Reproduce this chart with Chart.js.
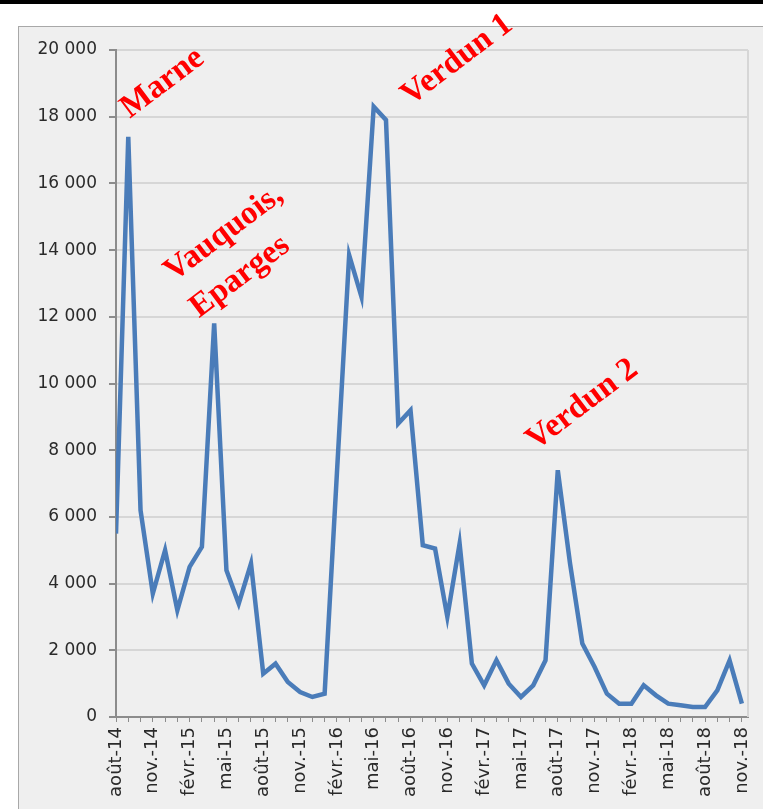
<!DOCTYPE html>
<html>
<head>
<meta charset="utf-8">
<script src="https://cdn.jsdelivr.net/npm/chart.js@4"></script>
<style>
    html, body { margin: 0; padding: 0; background: #fff; }
    body { width: 763px; height: 809px; position: relative; overflow: hidden; }
    .topbar { position: absolute; left: 0; top: 0; width: 763px; height: 4px; background: #000; }
    .panel {
        position: absolute; left: 18px; top: 26px; width: 760px; height: 800px;
        background: #efefef; border: 1px solid #a8a8a8;
    }
    #chart { position: absolute; left: 0; top: 0; }
</style>
</head>
<body>
<div class="topbar"></div>
<div class="panel"></div>
<canvas id="chart" width="763" height="809"></canvas>
<script>
// Months, août 2014 - nov. 2018
const months = ['août-14', 'sept.-14', 'oct.-14', 'nov.-14', 'déc.-14',
    'janv.-15', 'févr.-15', 'mars-15', 'avr.-15', 'mai-15', 'juin-15', 'juil.-15', 'août-15', 'sept.-15', 'oct.-15', 'nov.-15', 'déc.-15',
    'janv.-16', 'févr.-16', 'mars-16', 'avr.-16', 'mai-16', 'juin-16', 'juil.-16', 'août-16', 'sept.-16', 'oct.-16', 'nov.-16', 'déc.-16',
    'janv.-17', 'févr.-17', 'mars-17', 'avr.-17', 'mai-17', 'juin-17', 'juil.-17', 'août-17', 'sept.-17', 'oct.-17', 'nov.-17', 'déc.-17',
    'janv.-18', 'févr.-18', 'mars-18', 'avr.-18', 'mai-18', 'juin-18', 'juil.-18', 'août-18', 'sept.-18', 'oct.-18', 'nov.-18'];

// Monthly values
const values = [5500, 17400, 6200, 3700, 5000,
    3200, 4500, 5100, 11800, 4400, 3400, 4600, 1300, 1600, 1050, 750, 600,
    700, 7300, 13850, 12600, 18300, 17900, 8800, 9200, 5150, 5050, 3000, 5200,
    1600, 950, 1700, 1000, 600, 950, 1700, 7400, 4600, 2200, 1500, 700,
    400, 400, 950, 650, 400, 350, 300, 300, 800, 1700, 400];

// Battle labels, anchored at (month index, value)
const battleNames = ['Marne', 'Vauquois,', 'Eparges', 'Verdun 1', 'Verdun 2'];
const battleIndex = [3.8, 8.8, 10.1, 27.8, 38.0];
const battleValue = [19000, 14500, 13200, 19700, 9360];

const yMax = 20000;
const yStep = 2000;
const labelEvery = 3;

function formatThousands(v) {
    return String(v).replace(/\B(?=(\d{3})+(?!\d))/g, ' ');
}

// Draws the plot frame and the red battle names
const battleLabels = {
    id: 'battleLabels',
    afterDraw(chart) {
        const ctx = chart.ctx;
        const x = chart.scales.x;
        const y = chart.scales.y;
        const area = chart.chartArea;

        ctx.save();
        ctx.strokeStyle = '#d6d6d6';
        ctx.lineWidth = 2;
        ctx.beginPath();
        ctx.moveTo(area.right, area.top);
        ctx.lineTo(area.right, area.bottom);
        ctx.stroke();
        ctx.restore();

        ctx.save();
        ctx.fillStyle = '#ff0000';
        ctx.font = 'bold 33px "Liberation Serif", "Times New Roman", serif';
        ctx.textAlign = 'center';
        ctx.textBaseline = 'middle';
        battleNames.forEach((name, i) => {
            ctx.save();
            ctx.translate(x.getPixelForValue(battleIndex[i]), y.getPixelForValue(battleValue[i]));
            ctx.rotate(-37 * Math.PI / 180);
            ctx.fillText(name, 0, 0);
            ctx.restore();
        });
        ctx.restore();
    }
};

const ctx = document.getElementById('chart').getContext('2d');

new Chart(ctx, {
    type: 'line',
    data: {
        datasets: [{
            data: values.map((v, i) => ({ x: i, y: v })),
            borderColor: '#4a7cb9',
            borderWidth: 4.5,
            pointRadius: 0,
            tension: 0,
            fill: false
        }]
    },
    options: {
        responsive: false,
        animation: false,
        layout: {
            padding: { left: 0, top: 50, right: 15, bottom: 0 }
        },
        plugins: {
            legend: { display: false },
            tooltip: { enabled: false }
        },
        scales: {
            x: {
                type: 'linear',
                min: 0,
                max: months.length - 0.5,
                afterFit: scale => {
                    scale.height = 92;
                    scale.paddingLeft = 0;
                    scale.paddingRight = 0;
                },
                // one tick per month
                afterBuildTicks: scale => {
                    scale.ticks = months.map((m, i) => ({ value: i }));
                },
                grid: {
                    drawOnChartArea: false,
                    drawTicks: true,
                    tickLength: 5,
                    color: '#8c8c8c',
                    lineWidth: 1
                },
                border: { color: '#8c8c8c', width: 2 },
                ticks: {
                    autoSkip: false,
                    minRotation: 90,
                    maxRotation: 90,
                    padding: 5,
                    color: '#2a2a2a',
                    font: { family: '"DejaVu Sans", sans-serif', size: 18 },
                    callback: value => (Number.isInteger(value) && value % labelEvery === 0) ? months[value] : ''
                }
            },
            y: {
                min: 0,
                max: yMax,
                afterFit: scale => { scale.width = 116; },
                grid: {
                    color: '#d6d6d6',
                    lineWidth: 2,
                    drawTicks: true,
                    tickLength: 7,
                    tickColor: '#8c8c8c'
                },
                border: { color: '#8c8c8c', width: 2 },
                ticks: {
                    stepSize: yStep,
                    padding: 12,
                    color: '#2a2a2a',
                    font: { family: '"DejaVu Sans", sans-serif', size: 17 },
                    callback: value => formatThousands(value)
                }
            }
        }
    },
    plugins: [battleLabels]
});
</script>
</body>
</html>
